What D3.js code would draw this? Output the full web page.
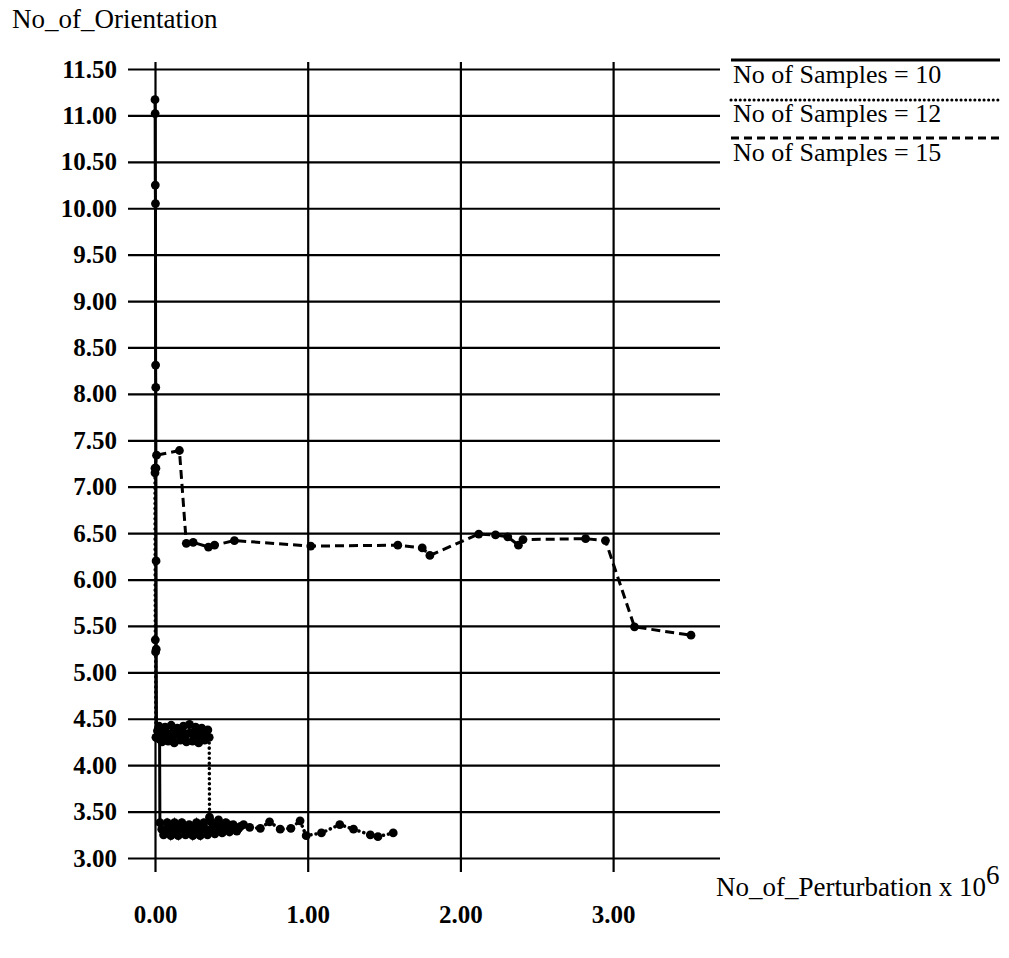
<!DOCTYPE html>
<html>
<head>
<meta charset="utf-8">
<script src="https://cdn.jsdelivr.net/npm/d3@7"></script>
<style>
  body { margin: 0; background: #fff; }
  svg { display: block; }
  text { font-family: "Liberation Serif", "Times New Roman", serif; fill: #000; }
</style>
</head>
<body>
<div id="chart"></div>
<script>
// values (x in units of 10^6 perturbations)
const xTicks = [0, 1, 2, 3];
const yTicks = [3, 3.5, 4, 4.5, 5, 5.5, 6, 6.5, 7, 7.5, 8, 8.5, 9, 9.5, 10, 10.5, 11, 11.5];

// No of Samples = 10 (solid)
const s10x = [0.000, 0.001, 0.002, 0.003, 0.004, 0.005, 0.006, 0.007, 0.008, 0.010, 0.030,
  0.032, 0.044, 0.056, 0.068, 0.080, 0.092, 0.104, 0.116, 0.128, 0.140, 0.152, 0.164, 0.176,
  0.188, 0.200, 0.212, 0.224, 0.236, 0.248, 0.260, 0.272, 0.284, 0.296, 0.308, 0.320, 0.332,
  0.344, 0.356, 0.368, 0.380, 0.392, 0.404, 0.416, 0.428, 0.440, 0.452, 0.464, 0.476, 0.488,
  0.500, 0.512, 0.524, 0.536, 0.548, 0.560];
const s10y = [11.17, 11.02, 10.25, 10.05, 8.31, 8.07, 7.20, 6.20, 5.25, 4.30, 4.28,
  3.38, 3.31, 3.25, 3.30, 3.38, 3.32, 3.24, 3.31, 3.38, 3.30, 3.24, 3.32, 3.38,
  3.31, 3.25, 3.30, 3.36, 3.32, 3.24, 3.31, 3.38, 3.30, 3.24, 3.32, 3.38, 3.31,
  3.25, 3.30, 3.39, 3.33, 3.26, 3.31, 3.41, 3.34, 3.27, 3.32, 3.38, 3.33, 3.28,
  3.31, 3.36, 3.33, 3.29, 3.32, 3.34];

// No of Samples = 12 (dotted)
const s12x = [0.000, 0.002, 0.004,
  0.006, 0.016, 0.026, 0.036, 0.046, 0.056, 0.066, 0.076, 0.086, 0.096, 0.106, 0.116,
  0.126, 0.136, 0.146, 0.156, 0.166, 0.176, 0.186, 0.196, 0.206, 0.216, 0.226, 0.236,
  0.246, 0.256, 0.266, 0.276, 0.286, 0.296, 0.306, 0.316, 0.326, 0.336, 0.346, 0.355,
  0.357, 0.370, 0.400, 0.440, 0.480, 0.520, 0.580, 0.620, 0.690, 0.750,
  0.820, 0.890, 0.950, 0.990, 1.090, 1.210, 1.300, 1.410, 1.460, 1.560];
const s12y = [7.15, 5.35, 5.22,
  4.30, 4.37, 4.42, 4.34, 4.25, 4.33, 4.41, 4.35, 4.26, 4.32, 4.43, 4.34,
  4.24, 4.33, 4.40, 4.36, 4.27, 4.31, 4.42, 4.33, 4.25, 4.34, 4.44, 4.35,
  4.26, 4.32, 4.41, 4.34, 4.24, 4.33, 4.40, 4.35, 4.27, 4.32, 4.38, 4.30,
  3.44, 3.30, 3.34, 3.28, 3.36, 3.31, 3.36, 3.33, 3.32, 3.39,
  3.31, 3.32, 3.40, 3.24, 3.27, 3.36, 3.31, 3.25, 3.23, 3.27];

// No of Samples = 15 (dashed)
const s15x = [0.000, 0.010, 0.160, 0.205, 0.250, 0.350, 0.390, 0.520, 1.020, 1.590, 1.750, 1.800,
  2.120, 2.230, 2.310, 2.380, 2.410, 2.820, 2.950, 3.140, 3.510];
const s15y = [7.20, 7.34, 7.39, 6.39, 6.40, 6.35, 6.37, 6.42, 6.36, 6.37, 6.34, 6.26,
  6.49, 6.48, 6.46, 6.37, 6.43, 6.44, 6.42, 5.49, 5.40];

const legendLabels = ["No of Samples = 10", "No of Samples = 12", "No of Samples = 15"];

const W = 1009, H = 958;
const m = { left: 155, right: 720, top: 69, bottom: 858 };

const svg = d3.select("#chart").append("svg")
  .attr("width", W)
  .attr("height", H);

const x = d3.scaleLinear().domain([0, 3.7]).range([m.left, m.right]);
const y = d3.scaleLinear().domain([3, 11.5]).range([m.bottom, m.top]);

// horizontal grid + y labels (ticks drawn leftwards from the right edge)
const yAxis = svg.append("g")
  .attr("transform", `translate(${m.right},0)`)
  .call(d3.axisLeft(y).tickValues(yTicks).tickSize(m.right - 128).tickPadding(11)
    .tickFormat(d3.format(".2f")));
yAxis.select(".domain").remove();
yAxis.selectAll("line").attr("stroke", "#000").attr("stroke-width", 2.2);
yAxis.selectAll("text")
  .style("font-family", '"Liberation Serif", serif')
  .style("font-size", "25px")
  .style("font-weight", "bold");

// vertical grid + x labels
const gTop = 62, gBot = 872;
const xAxis = svg.append("g")
  .attr("transform", `translate(0,${gTop})`)
  .call(d3.axisBottom(x).tickValues(xTicks).tickSize(gBot - gTop).tickPadding(33)
    .tickFormat(d3.format(".2f")));
xAxis.select(".domain").remove();
xAxis.selectAll("line").attr("stroke", "#000").attr("stroke-width", 2.2);
xAxis.selectAll("text")
  .style("font-family", '"Liberation Serif", serif')
  .style("font-size", "25px")
  .style("font-weight", "bold");

// axis titles
svg.append("text")
  .attr("x", 12).attr("y", 28)
  .style("font-size", "27px")
  .text("No_of_Orientation");

const xt = svg.append("text")
  .attr("x", 716).attr("y", 896)
  .style("font-size", "27px");
xt.append("tspan").text("No_of_Perturbation x 10");
xt.append("tspan").attr("dy", -12).style("font-size", "27px").text("6");

// series
const series = [
  { xs: s10x, ys: s10y, dash: null, width: 3, cap: "butt" },
  { xs: s12x, ys: s12y, dash: "0.1,5", width: 3.5, cap: "round" },
  { xs: s15x, ys: s15y, dash: "9,5", width: 3, cap: "butt" }
];

const line = d3.line().x(d => x(d[0])).y(d => y(d[1]));

series.forEach(s => {
  const pts = s.xs.map((v, i) => [v, s.ys[i]]);
  svg.append("path")
    .datum(pts)
    .attr("fill", "none")
    .attr("stroke", "#000")
    .attr("stroke-width", s.width)
    .attr("stroke-linecap", s.cap)
    .attr("stroke-dasharray", s.dash)
    .attr("d", line);
  svg.append("g")
    .selectAll("circle")
    .data(pts)
    .join("circle")
    .attr("cx", d => x(d[0]))
    .attr("cy", d => y(d[1]))
    .attr("r", 4.4)
    .attr("fill", "#000");
});

// legend
const legY = [60, 100, 138];
const legTextY = [83, 122, 161];
const legDash = [null, "0.1,4.5", "8,5"];
legendLabels.forEach((lab, i) => {
  svg.append("line")
    .attr("x1", 731).attr("x2", 1000)
    .attr("y1", legY[i]).attr("y2", legY[i])
    .attr("stroke", "#000")
    .attr("stroke-width", 3)
    .attr("stroke-linecap", i === 1 ? "round" : "butt")
    .attr("stroke-dasharray", legDash[i]);
  svg.append("text")
    .attr("x", 733).attr("y", legTextY[i])
    .style("font-size", "26px")
    .text(lab);
});
</script>
</body>
</html>
